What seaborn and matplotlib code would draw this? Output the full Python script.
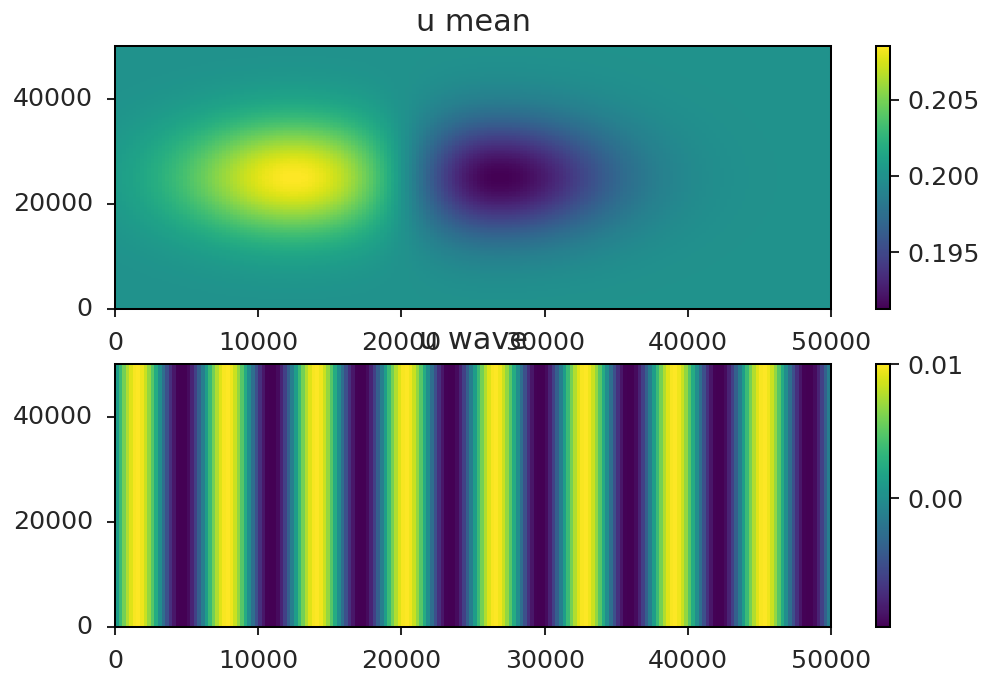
import numpy as np
import pandas as pd
import matplotlib
matplotlib.use("Agg")
import matplotlib.pyplot as plt
import seaborn as sns

# ---- data ----
x_extent = [0, 50000]
y_extent = [0, 50000]
n_cells = [200, 160]          # columns (x), rows (y)

mean_base = 0.2
lobe_center_x = [12700, 26200]
lobe_center_y = [25000, 25000]
lobe_amp = [0.0086, -0.0092]
lobe_sigma_x_left = [5800, 4500]
lobe_sigma_x_right = [5800, 6000]
lobe_sigma_y = [7800, 7800]

wave_amp = 0.0100
wave_count = 8                 # wavelengths across the domain
wave_limits = [-0.0096, 0.01003]

x_ticks = [0, 10000, 20000, 30000, 40000, 50000]
y_ticks = [0, 20000, 40000]
mean_cbar_ticks = [0.195, 0.200, 0.205]
mean_cbar_labels = ["0.195", "0.200", "0.205"]
wave_cbar_ticks = [0.00, 0.01]
wave_cbar_labels = ["0.00", "0.01"]
titles = ["u mean", "u wave"]

# ---- build the fields on the grid ----
nx, ny = n_cells
dx = (x_extent[1] - x_extent[0]) / nx
dy = (y_extent[1] - y_extent[0]) / ny
xc = x_extent[0] + (np.arange(nx) + 0.5) * dx
yc = y_extent[0] + (np.arange(ny) + 0.5) * dy
X, Y = np.meshgrid(xc, yc)

u_mean = np.full_like(X, mean_base)
for cx, cy, a, sl, sr, sy in zip(lobe_center_x, lobe_center_y, lobe_amp,
                                 lobe_sigma_x_left, lobe_sigma_x_right, lobe_sigma_y):
    sx = np.where(X < cx, sl, sr)
    u_mean += a * np.exp(-((X - cx) ** 2) / (2 * sx ** 2) - ((Y - cy) ** 2) / (2 * sy ** 2))

L = x_extent[1] - x_extent[0]
u_wave = wave_amp * np.sin(2 * np.pi * wave_count * X / L)

df_mean = pd.DataFrame(u_mean, index=yc, columns=xc)
df_wave = pd.DataFrame(u_wave, index=yc, columns=xc)

# ---- figure ----
W, H, DPI = 984, 673, 182
plt.rcParams['font.family'] = ['DejaVu Sans']
fig = plt.figure(figsize=(W / DPI, H / DPI), dpi=DPI)

def fx(px):
    return px / W

def fy(py):
    return 1 - py / H

ax_l, ax_r = 115, 831
cb_l, cb_r = 876, 890
rows = [(46, 309), (364, 627)]

panels = [
    (df_mean, None, mean_cbar_ticks, mean_cbar_labels, titles[0]),
    (df_wave, wave_limits, wave_cbar_ticks, wave_cbar_labels, titles[1]),
]

for k, (df, lims, cb_ticks, cb_labels, title) in enumerate(panels):
    top, bot = rows[k]
    ax = fig.add_axes([fx(ax_l), fy(bot), fx(ax_r - ax_l), (bot - top) / H])
    cax = fig.add_axes([fx(cb_l), fy(bot), fx(cb_r - cb_l), (bot - top) / H])
    kw = {}
    if lims is not None:
        kw = dict(vmin=lims[0], vmax=lims[1])
    sns.heatmap(df, ax=ax, cbar_ax=cax, cmap="viridis",
                xticklabels=False, yticklabels=False, **kw)
    ax.invert_yaxis()
    for s in ax.spines.values():
        s.set_visible(True)
        s.set_linewidth(0.8)
        s.set_color("black")
    ax.set_xticks([(t - x_extent[0]) / dx for t in x_ticks])
    ax.set_xticklabels([str(t) for t in x_ticks], rotation=0)
    ax.set_yticks([(t - y_extent[0]) / dy for t in y_ticks])
    ax.set_yticklabels([str(t) for t in y_ticks], rotation=0, va="center")
    ax.tick_params(axis="both", direction="out", length=3.3, width=0.8, pad=5.5,
                   labelsize=10, colors="#262626", left=True, bottom=True)
    ax.set_xlabel("")
    ax.set_ylabel("")
    ax.set_title(title, fontsize=12, color="#262626")
    cb = ax.collections[0].colorbar
    cb.outline.set_visible(True)
    cb.outline.set_linewidth(0.8)
    cb.outline.set_edgecolor("black")
    cb.set_ticks(cb_ticks)
    cb.set_ticklabels(cb_labels)
    cax.tick_params(direction="out", length=3.5, width=0.8, labelsize=10, colors="#262626")

fig.savefig("out.png", dpi=DPI)
